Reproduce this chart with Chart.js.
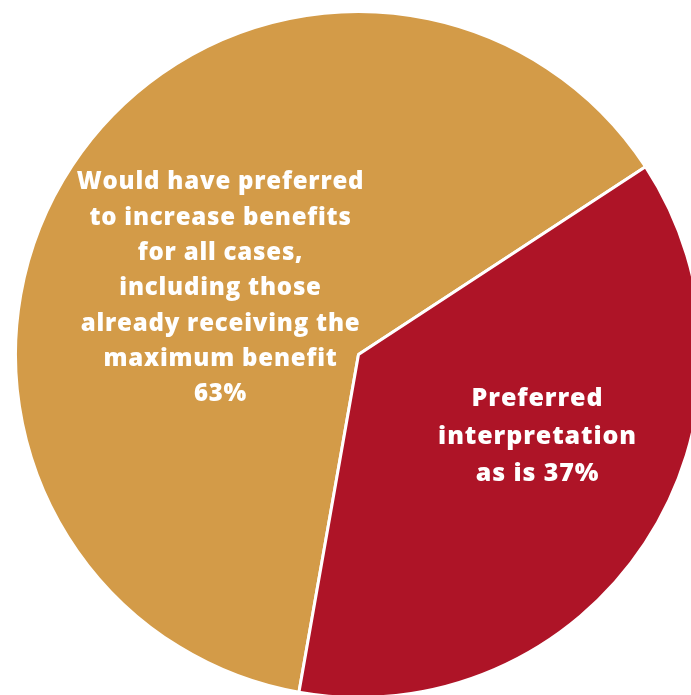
<!DOCTYPE html>
<html>
<head>
<meta charset="utf-8">
<script src="https://cdn.jsdelivr.net/npm/chart.js@4"></script>
<style>
  html, body { margin: 0; padding: 0; background: #fff; overflow: hidden; }
  body { width: 691px; height: 695px; position: relative; }
  .pie-wrap { position: absolute; left: 14px; top: 10px; width: 689px; height: 689px; }
</style>
</head>
<body>
<div class="pie-wrap"><canvas id="pieChart"></canvas></div>
<script>
const categories = [
  ["Would have preferred", "to increase benefits", "for all cases,", "including those", "already receiving the", "maximum benefit"],
  ["Preferred", "interpretation", "as is"]
];
const shares = [63, 37];
const sliceColors = ["#D39B48", "#AE1427"];

// where each label sits: angle clockwise from 12 o'clock, fraction of radius
const labelAngle = [295.6, 114.6];
const labelRadius = [0.446, 0.574];

// Write the wrapped label + percentage inside each slice
const sliceLabels = {
  id: "sliceLabels",
  afterDatasetsDraw(chart) {
    const ctx = chart.ctx;
    const meta = chart.getDatasetMeta(0);
    meta.data.forEach((arc, i) => {
      const a = (labelAngle[i] - 90) * Math.PI / 180;
      const cx = arc.x + Math.cos(a) * arc.outerRadius * labelRadius[i];
      const cy = arc.y + Math.sin(a) * arc.outerRadius * labelRadius[i];
      let lines = categories[i].slice();
      if (i === 0) lines.push(shares[i] + "%");
      else lines[lines.length - 1] += " " + shares[i] + "%";
      const size = i === 0 ? 24 : 25;
      const step = i === 0 ? 35.3 : 37.5;
      ctx.save();
      ctx.fillStyle = "#fff";
      ctx.font = "800 " + size + "px 'Open Sans', sans-serif";
      ctx.letterSpacing = i === 0 ? "0.8px" : "0.9px";
      ctx.textAlign = "center";
      ctx.textBaseline = "middle";
      const top = cy - (lines.length - 1) * step / 2;
      lines.forEach((t, k) => ctx.fillText(t, cx, top + k * step));
      ctx.restore();
    });
  }
};

new Chart(document.getElementById("pieChart"), {
  type: "pie",
  data: {
    labels: categories.map(c => c.join(" ")),
    datasets: [{
      data: shares,
      backgroundColor: sliceColors,
      borderColor: "#fff",
      borderWidth: 3
    }]
  },
  options: {
    responsive: true,
    maintainAspectRatio: false,
    animation: false,
    rotation: 190,
    layout: { padding: 0 },
    plugins: {
      legend: { display: false },
      tooltip: { enabled: false }
    }
  },
  plugins: [sliceLabels]
});
</script>
</body>
</html>
